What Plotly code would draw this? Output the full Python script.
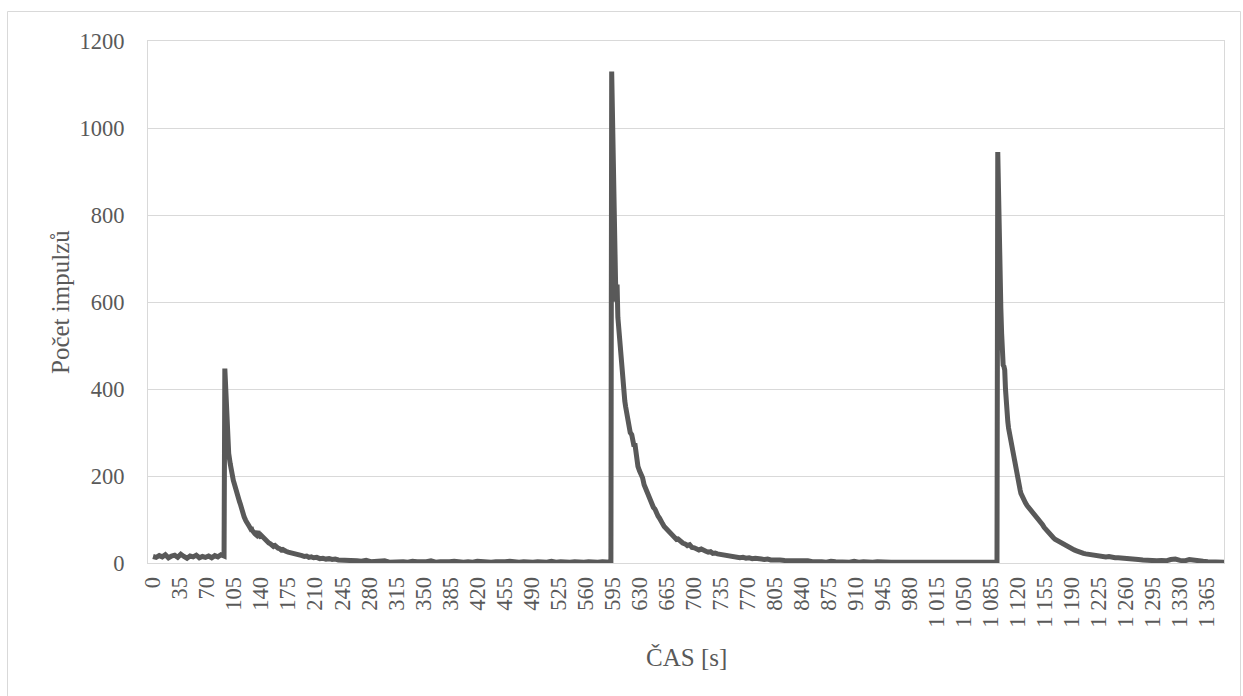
import plotly.graph_objects as go

# ---- data (time in s, pulse counts) ----
t_base = [0, 4, 8, 12, 16, 20, 24, 28, 32, 36, 40, 44, 48, 52, 56, 60, 64, 68, 72, 76, 80, 84, 88, 92]
n_base = [15, 13, 17, 14, 19, 12, 16, 18, 13, 20, 15, 11, 16, 14, 18, 12, 15, 13, 16, 12, 17, 14, 19, 16]

t_peak1 = [93, 94, 95, 96, 97, 98, 100, 101, 102, 103, 104, 105, 106, 107, 108, 109, 110, 112, 113, 114,
           115, 116, 117, 118, 119, 120, 121, 122, 124, 126, 127, 128, 130, 132, 134, 135, 136, 137, 138, 140,
           141, 142, 144, 146, 148, 150, 152, 154, 156, 158, 160, 162, 164, 166, 168, 170, 172, 175, 178, 181,
           184, 187, 190, 193, 196, 199, 202, 205, 208, 212, 216, 220, 224, 228, 232, 236, 240, 245, 250, 255,
           260]
n_peak1 = [447, 395, 358, 300, 262, 252, 228, 214, 205, 198, 190, 184, 176, 170, 165, 160, 150, 141, 136, 126,
           122, 118, 112, 106, 104, 98, 95, 93, 86, 80, 82, 76, 70, 67, 64, 68, 73, 66, 62, 58,
           62, 60, 54, 51, 50, 46, 44, 42, 38, 40, 36, 34, 33, 30, 31, 28, 27, 25, 24, 21,
           22, 19, 18, 17, 15, 16, 13, 14, 12, 13, 10, 11, 9, 10, 8, 9, 7, 7, 6, 5,
           5]

t_flat1 = [264, 270, 276, 282, 288, 294, 300, 306, 312, 318, 324, 330, 336, 342, 348, 354, 360, 366, 372,
           378, 384, 390, 396, 402, 408, 414, 420, 426, 432, 438, 444, 450, 456, 462, 468, 474, 480, 486,
           492, 498, 504, 510, 516, 522, 528, 534, 540, 546, 552, 558, 564, 570, 576, 582, 588, 593]
n_flat1 = [5, 4, 6, 3, 4, 3, 5, 2, 3, 4, 3, 2, 4, 3, 2, 3, 5, 2, 3,
           2, 3, 4, 2, 2, 3, 2, 4, 3, 2, 2, 3, 2, 3, 4, 2, 2, 3, 2,
           2, 3, 2, 2, 4, 2, 3, 2, 2, 3, 2, 2, 3, 2, 2, 3, 2, 2]

t_peak2 = [594, 595, 596, 597, 598, 599, 600, 601, 602, 603, 604, 606, 607, 608, 610, 611, 612, 614, 616, 618,
           620, 622, 623, 624, 625, 626, 627, 628, 630, 632, 634, 636, 638, 640, 642, 644, 646, 648, 650, 652,
           654, 656, 658, 660, 662, 664, 666, 668, 670, 672, 674, 676, 678, 680, 683, 686, 689, 692, 695, 698,
           701, 704, 707, 710, 713, 716, 719, 722, 725, 728, 731, 734, 737, 740, 744, 748, 752, 756, 760, 764,
           768, 772, 776, 780, 784, 788, 792, 796, 800, 806, 812, 818, 824, 830, 836]
n_peak2 = [1130, 1000, 880, 800, 700, 648, 601, 640, 565, 540, 514, 470, 440, 418, 395, 372, 360, 338, 322, 300,
           295, 282, 268, 275, 262, 236, 228, 222, 212, 205, 196, 180, 170, 160, 156, 142, 136, 128, 124, 114,
           108, 103, 92, 90, 84, 80, 74, 72, 66, 64, 60, 58, 54, 55, 50, 46, 44, 40, 42, 36,
           35, 33, 30, 32, 28, 27, 25, 26, 22, 23, 21, 20, 18, 19, 17, 16, 15, 14, 12, 13,
           11, 12, 10, 11, 9, 9, 8, 9, 7, 8, 7, 6, 6, 5, 5]

t_flat2 = [842, 848, 854, 860, 866, 872, 878, 884, 890, 896, 902, 908, 914, 920, 926, 932, 938, 944, 950,
           956, 962, 968, 974, 980, 986, 992, 998, 1004, 1010, 1016, 1022, 1028, 1034, 1040, 1046, 1052,
           1058, 1064, 1070, 1076, 1082, 1088, 1093]
n_flat2 = [4, 5, 3, 4, 3, 2, 4, 3, 2, 3, 2, 4, 2, 3, 2, 2, 3, 2, 3,
           2, 2, 3, 2, 2, 3, 2, 2, 2, 3, 2, 2, 3, 2, 2, 2, 3,
           2, 2, 2, 3, 2, 2, 2]

t_peak3 = [1094, 1095, 1096, 1097, 1098, 1099, 1100, 1101, 1102, 1103, 1104, 1105, 1106, 1107, 1108, 1109, 1110, 1111, 1112, 1113,
           1114, 1115, 1116, 1117, 1118, 1119, 1120, 1121, 1122, 1123, 1124, 1125, 1126, 1127, 1128, 1129, 1130, 1132, 1134, 1136,
           1138, 1140, 1142, 1144, 1146, 1148, 1150, 1152, 1154, 1156, 1158, 1160, 1162, 1164, 1166, 1168, 1170, 1172, 1174, 1176,
           1178, 1180, 1182, 1184, 1186, 1188, 1190, 1193, 1196, 1199, 1202, 1205, 1208, 1211, 1214, 1217, 1220, 1223, 1226, 1230,
           1234, 1238, 1242, 1246, 1250, 1254, 1258, 1262, 1266, 1270, 1276, 1282, 1288, 1294, 1300, 1306, 1312, 1318, 1324, 1330,
           1336, 1342, 1348, 1354, 1360, 1366, 1372, 1378, 1384, 1387]
n_peak3 = [945, 810, 700, 635, 585, 528, 470, 455, 452, 444, 400, 352, 340, 325, 310, 300, 285, 272, 262, 255,
           245, 236, 226, 215, 206, 200, 192, 185, 178, 168, 160, 155, 152, 146, 142, 140, 138, 132, 128, 124,
           118, 114, 110, 106, 101, 97, 92, 88, 82, 78, 72, 66, 63, 60, 58, 55, 53, 50, 48, 45,
           42, 41, 40, 37, 35, 33, 31, 30, 28, 25, 24, 22, 21, 20, 19, 18, 19, 17, 16, 15,
           14, 15, 13, 12, 12, 11, 10, 9, 9, 8, 8, 7, 6, 6, 5, 6, 5, 8, 9, 6,
           5, 8, 6, 4, 4, 3, 3, 2, 2, 2]

for a, b in [(t_base, n_base), (t_peak1, n_peak1), (t_flat1, n_flat1),
             (t_peak2, n_peak2), (t_flat2, n_flat2), (t_peak3, n_peak3)]:
    assert len(a) == len(b), (len(a), len(b), a[0])

x_tick_values = list(range(0, 1366, 35))
x_tick_labels = [f"{v:,}".replace(",", " ") for v in x_tick_values]
y_tick_values = [0, 200, 400, 600, 800, 1000, 1200]

times = t_base + t_peak1 + t_flat1 + t_peak2 + t_flat2 + t_peak3
counts = n_base + n_peak1 + n_flat1 + n_peak2 + n_flat2 + n_peak3

FONT = "Liberation Serif, Times New Roman, serif"
GRAY = "#595959"
GRID = "#d9d9d9"

fig = go.Figure()
fig.add_trace(go.Scatter(
    x=times, y=counts, mode="lines",
    line=dict(color=GRAY, width=5),
    showlegend=False, hoverinfo="skip",
))

W, H = 1243, 696
L, R, T, B = 148, 19, 41, 133
pw, ph = W - L - R, H - T - B

def px_x(p):
    return (p - L) / pw

def px_y(p):
    return (H - B - p) / ph

fig.update_layout(
    width=W, height=H,
    margin=dict(l=L, r=R, t=T, b=B, pad=0),
    paper_bgcolor="white", plot_bgcolor="white",
    font=dict(family=FONT, color=GRAY),
    xaxis=dict(
        range=[-6.5, 1387],
        tickmode="array", tickvals=x_tick_values, ticktext=x_tick_labels,
        tickangle=-90, tickfont=dict(family=FONT, size=22.5, color=GRAY),
        showgrid=False, zeroline=False,
        showline=True, mirror=True, linecolor=GRID, linewidth=1,
        ticks="", ticklabelstandoff=4,
    ),
    yaxis=dict(
        range=[0, 1200],
        tickmode="array", tickvals=y_tick_values,
        tickfont=dict(family=FONT, size=22.5, color=GRAY),
        showgrid=True, gridcolor=GRID, gridwidth=1, zeroline=False,
        showline=True, mirror=True, linecolor=GRID, linewidth=1,
        ticks="", ticklabelstandoff=18,
    ),
    annotations=[
        dict(text="ČAS [s]", xref="paper", yref="paper",
             x=px_x(686), y=px_y(657), showarrow=False,
             xanchor="center", yanchor="middle",
             font=dict(family=FONT, size=25, color=GRAY)),
        dict(text="Počet impulzů", xref="paper", yref="paper",
             x=px_x(60), y=px_y(302), showarrow=False, textangle=-90,
             xanchor="center", yanchor="middle",
             font=dict(family=FONT, size=25, color=GRAY)),
    ],
    shapes=[
        dict(type="rect", xref="paper", yref="paper",
             x0=px_x(7.5), x1=px_x(1240.5), y0=px_y(705), y1=px_y(11.5),
             line=dict(color=GRID, width=1), fillcolor="rgba(0,0,0,0)", layer="below"),
    ],
)

fig.write_html("out.html", config={"displayModeBar": False},
               post_script="document.body.style.margin='0';")
